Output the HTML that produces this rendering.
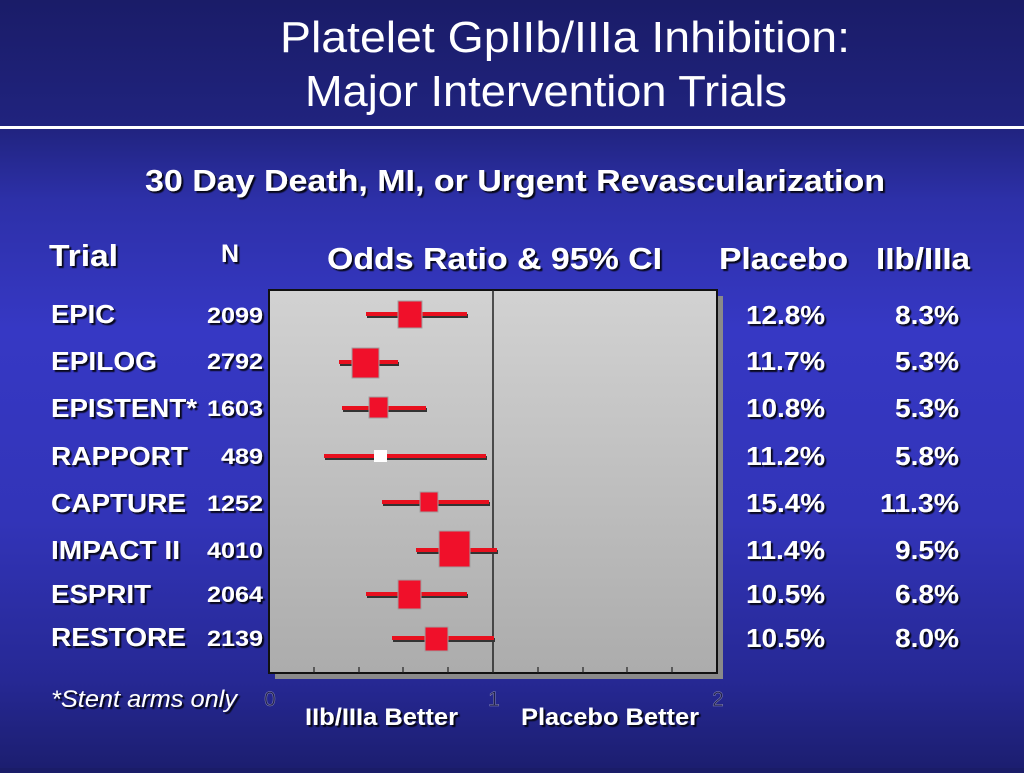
<!DOCTYPE html>
<html><head><meta charset="utf-8"><style>
html,body{margin:0;padding:0;}
body{width:1024px;height:768px;overflow:hidden;background:linear-gradient(to bottom,#1a1c68 0px,#20237e 125px,#2d30a8 200px,#3638c4 330px,#3234b8 520px,#262894 680px,#1c1e70 768px);}
svg text{font-family:"Liberation Sans",Arial,sans-serif;fill:#fff;}
</style></head><body>
<svg width="1024" height="768" viewBox="0 0 1024 768" xmlns="http://www.w3.org/2000/svg">
<defs>
<filter id="sh" x="-10%" y="-10%" width="130%" height="150%"><feDropShadow dx="2" dy="2" stdDeviation="0.6" flood-color="#000" flood-opacity="0.85"/></filter>
<linearGradient id="bg" x1="0" y1="0" x2="0" y2="1"><stop offset="0" stop-color="#d2d2d2"/><stop offset="1" stop-color="#acacac"/></linearGradient>
</defs>
<text x="280" y="52" font-size="44" textLength="570" lengthAdjust="spacingAndGlyphs">Platelet GpIIb/IIIa Inhibition:</text>
<text x="305" y="106" font-size="44" textLength="482" lengthAdjust="spacingAndGlyphs">Major Intervention Trials</text>
<rect x="0" y="126" width="1024" height="3" fill="#fff"/>
<g filter="url(#sh)" font-weight="bold">
<text x="145" y="191" font-size="31" textLength="740" lengthAdjust="spacingAndGlyphs">30 Day Death, MI, or Urgent Revascularization</text>
<text x="49" y="266" font-size="31" textLength="69" lengthAdjust="spacingAndGlyphs">Trial</text>
<text x="221" y="262" font-size="25" textLength="18" lengthAdjust="spacingAndGlyphs">N</text>
<text x="327" y="269" font-size="31" textLength="335" lengthAdjust="spacingAndGlyphs">Odds Ratio &amp; 95% CI</text>
<text x="719" y="269" font-size="31" textLength="129" lengthAdjust="spacingAndGlyphs">Placebo</text>
<text x="876" y="269" font-size="31" textLength="94" lengthAdjust="spacingAndGlyphs">IIb/IIIa</text>
</g>
<rect x="275" y="296" width="448" height="383" fill="#8a8a8a"/>
<rect x="269" y="290" width="448" height="383" fill="url(#bg)" stroke="#111" stroke-width="2"/>
<line x1="493" y1="290" x2="493" y2="673" stroke="#222" stroke-width="1.5"/>
<g stroke="#222" stroke-width="1.2">
<line x1="314" y1="673" x2="314" y2="667"/><line x1="359" y1="673" x2="359" y2="667"/><line x1="403" y1="673" x2="403" y2="667"/><line x1="448" y1="673" x2="448" y2="667"/>
<line x1="538" y1="673" x2="538" y2="667"/><line x1="583" y1="673" x2="583" y2="667"/><line x1="627" y1="673" x2="627" y2="667"/><line x1="672" y1="673" x2="672" y2="667"/>
</g>
<g>
<g fill="#333">
<rect x="367" y="314" width="101" height="4"/><rect x="340" y="362" width="59" height="4"/><rect x="343" y="408" width="84" height="4"/><rect x="325" y="456" width="162" height="4"/>
<rect x="383" y="502" width="107" height="4"/><rect x="417" y="550" width="81" height="4"/><rect x="367" y="594" width="101" height="4"/><rect x="393" y="638" width="102" height="4"/>
</g>
<g fill="#e8101e">
<rect x="366" y="312" width="101" height="4"/><rect x="339" y="360" width="59" height="4"/><rect x="342" y="406" width="84" height="4"/><rect x="324" y="454" width="162" height="4"/>
<rect x="382" y="500" width="107" height="4"/><rect x="416" y="548" width="81" height="4"/><rect x="366" y="592" width="101" height="4"/><rect x="392" y="636" width="102" height="4"/>
</g>
<g fill="#f0102a" stroke="#a0a0a0" stroke-width="1">
<rect x="398" y="301" width="24" height="27"/><rect x="352" y="348" width="27" height="30"/><rect x="369" y="397" width="19" height="21"/>
<rect x="420" y="492" width="18" height="20"/><rect x="439" y="531" width="31" height="36"/><rect x="398" y="580" width="23" height="29"/><rect x="425" y="627" width="23" height="24"/>
</g>
<rect x="374" y="450" width="13" height="12" fill="#fff"/>
</g>
<g font-size="21" text-anchor="middle">
<text x="270" y="706" style="fill:#20204a;stroke:#8888bb;stroke-width:0.5">0</text><text x="494" y="706" style="fill:#20204a;stroke:#8888bb;stroke-width:0.5">1</text><text x="718" y="706" style="fill:#20204a;stroke:#8888bb;stroke-width:0.5">2</text>
</g>
<g filter="url(#sh)" font-weight="bold">
<text x="305" y="725" font-size="24" textLength="153" lengthAdjust="spacingAndGlyphs">IIb/IIIa Better</text>
<text x="521" y="725" font-size="24" textLength="178" lengthAdjust="spacingAndGlyphs">Placebo Better</text>
<g font-size="26">
<text x="51" y="323" textLength="64" lengthAdjust="spacingAndGlyphs">EPIC</text>
<text x="51" y="370" textLength="106" lengthAdjust="spacingAndGlyphs">EPILOG</text>
<text x="51" y="417" textLength="146" lengthAdjust="spacingAndGlyphs">EPISTENT*</text>
<text x="51" y="465" textLength="137" lengthAdjust="spacingAndGlyphs">RAPPORT</text>
<text x="51" y="512" textLength="135" lengthAdjust="spacingAndGlyphs">CAPTURE</text>
<text x="51" y="559" textLength="129" lengthAdjust="spacingAndGlyphs">IMPACT II</text>
<text x="51" y="603" textLength="100" lengthAdjust="spacingAndGlyphs">ESPRIT</text>
<text x="51" y="646" textLength="135" lengthAdjust="spacingAndGlyphs">RESTORE</text>
</g>
<g font-size="22">
<text x="207" y="323" textLength="56" lengthAdjust="spacingAndGlyphs">2099</text>
<text x="207" y="369" textLength="56" lengthAdjust="spacingAndGlyphs">2792</text>
<text x="207" y="416" textLength="56" lengthAdjust="spacingAndGlyphs">1603</text>
<text x="221" y="464" textLength="42" lengthAdjust="spacingAndGlyphs">489</text>
<text x="207" y="511" textLength="56" lengthAdjust="spacingAndGlyphs">1252</text>
<text x="207" y="558" textLength="56" lengthAdjust="spacingAndGlyphs">4010</text>
<text x="207" y="602" textLength="56" lengthAdjust="spacingAndGlyphs">2064</text>
<text x="207" y="646" textLength="56" lengthAdjust="spacingAndGlyphs">2139</text>
</g>
<g font-size="26">
<text x="746" y="324" textLength="79" lengthAdjust="spacingAndGlyphs">12.8%</text><text x="895" y="324" textLength="64" lengthAdjust="spacingAndGlyphs">8.3%</text>
<text x="746" y="370" textLength="79" lengthAdjust="spacingAndGlyphs">11.7%</text><text x="895" y="370" textLength="64" lengthAdjust="spacingAndGlyphs">5.3%</text>
<text x="746" y="417" textLength="79" lengthAdjust="spacingAndGlyphs">10.8%</text><text x="895" y="417" textLength="64" lengthAdjust="spacingAndGlyphs">5.3%</text>
<text x="746" y="465" textLength="79" lengthAdjust="spacingAndGlyphs">11.2%</text><text x="895" y="465" textLength="64" lengthAdjust="spacingAndGlyphs">5.8%</text>
<text x="746" y="512" textLength="79" lengthAdjust="spacingAndGlyphs">15.4%</text><text x="880" y="512" textLength="79" lengthAdjust="spacingAndGlyphs">11.3%</text>
<text x="746" y="559" textLength="79" lengthAdjust="spacingAndGlyphs">11.4%</text><text x="895" y="559" textLength="64" lengthAdjust="spacingAndGlyphs">9.5%</text>
<text x="746" y="603" textLength="79" lengthAdjust="spacingAndGlyphs">10.5%</text><text x="895" y="603" textLength="64" lengthAdjust="spacingAndGlyphs">6.8%</text>
<text x="746" y="647" textLength="79" lengthAdjust="spacingAndGlyphs">10.5%</text><text x="895" y="647" textLength="64" lengthAdjust="spacingAndGlyphs">8.0%</text>
</g>
</g>
<text x="51" y="707" font-size="24" font-style="italic" filter="url(#sh)" textLength="186" lengthAdjust="spacingAndGlyphs">*Stent arms only</text>
</svg>
</body></html>
